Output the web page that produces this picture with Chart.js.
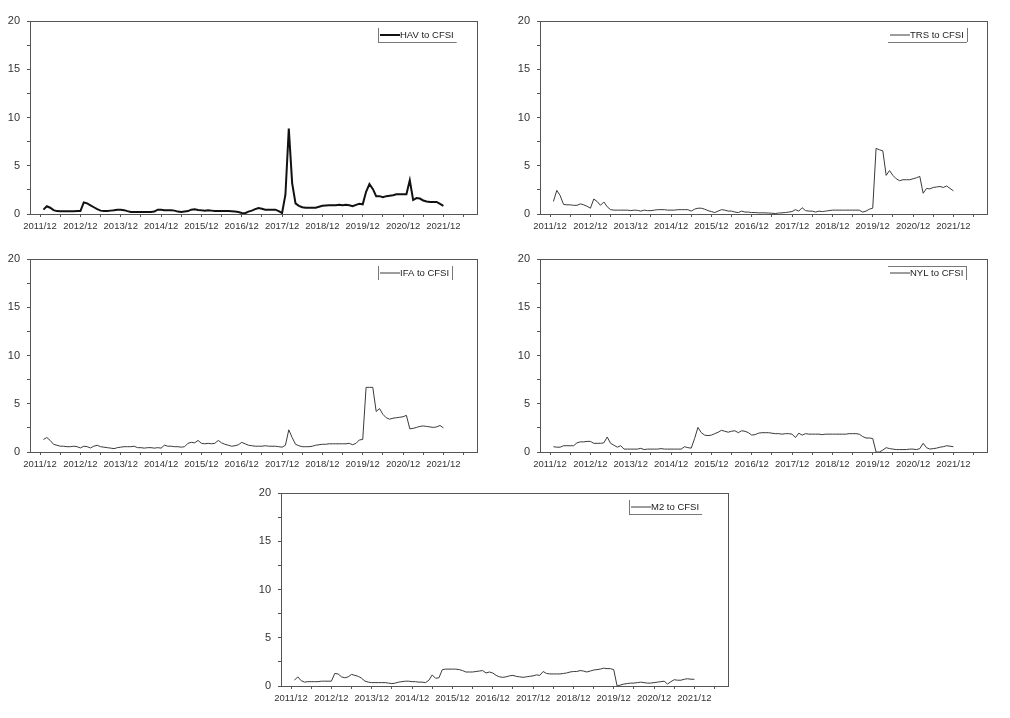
<!DOCTYPE html>
<html>
<head>
<meta charset="utf-8">
<script src="https://cdn.jsdelivr.net/npm/chart.js@4.4.1/dist/chart.umd.min.js"></script>
<style>
  body { margin: 0; background: #fff; width: 1010px; height: 718px; position: relative; overflow: hidden; }
  .panel { position: absolute; width: 500px; height: 240px; }
</style>
</head>
<body>
<div class="panel" style="left:0px;top:1px"><canvas id="c-hav" width="500" height="240"></canvas></div>
<div class="panel" style="left:510px;top:1px"><canvas id="c-trs" width="500" height="240"></canvas></div>
<div class="panel" style="left:0px;top:239px"><canvas id="c-ifa" width="500" height="240"></canvas></div>
<div class="panel" style="left:510px;top:239px"><canvas id="c-nyl" width="500" height="240"></canvas></div>
<div class="panel" style="left:251px;top:473px"><canvas id="c-m2" width="500" height="240"></canvas></div>
<script>
// months 2012/01 .. 2021/12, x = months after 2011/12
var months = [];
for (var i = 1; i <= 120; i++) months.push(i);

var yearLabels = ['2011/12', '2012/12', '2013/12', '2014/12', '2015/12', '2016/12',
                  '2017/12', '2018/12', '2019/12', '2020/12', '2021/12'];

var havValues = [
  0.45, 0.8, 0.65, 0.4, 0.3, 0.28, 0.28, 0.28, 0.28, 0.28, 0.3, 0.3,
  1.2, 1.1, 0.9, 0.7, 0.5, 0.35, 0.32, 0.32, 0.35, 0.38, 0.45, 0.45,
  0.4, 0.3, 0.22, 0.22, 0.2, 0.22, 0.2, 0.22, 0.2, 0.25, 0.45, 0.45,
  0.4, 0.38, 0.4, 0.35, 0.25, 0.2, 0.25, 0.3, 0.45, 0.5, 0.42, 0.38,
  0.35, 0.4, 0.35, 0.3, 0.3, 0.3, 0.3, 0.3, 0.28, 0.25, 0.2, 0.1,
  0.08, 0.25, 0.35, 0.5, 0.62, 0.55, 0.45, 0.45, 0.45, 0.45, 0.3, 0.1,
  2.0, 8.85, 3.2, 1.1, 0.85, 0.7, 0.65, 0.65, 0.65, 0.65, 0.75, 0.85,
  0.88, 0.9, 0.9, 0.9, 0.95, 0.9, 0.95, 0.9, 0.8, 0.95, 1.05, 1.0,
  2.3, 3.1, 2.6, 1.85, 1.85, 1.75, 1.85, 1.9, 1.95, 2.05, 2.05, 2.05,
  2.05, 3.5, 1.45, 1.65, 1.6, 1.4, 1.3, 1.25, 1.25, 1.25, 1.05, 0.85
];

var trsValues = [
  1.3, 2.45, 1.9, 1.0, 0.95, 0.95, 0.9, 0.9, 1.05, 0.95, 0.8, 0.6,
  1.55, 1.3, 0.9, 1.25, 0.75, 0.45, 0.4, 0.4, 0.4, 0.4, 0.4, 0.35,
  0.4, 0.38, 0.3, 0.4, 0.35, 0.35, 0.4, 0.45, 0.45, 0.45, 0.4, 0.4,
  0.4, 0.45, 0.45, 0.45, 0.45, 0.3, 0.5, 0.6, 0.6, 0.5, 0.35, 0.25,
  0.15, 0.3, 0.45, 0.4, 0.3, 0.3, 0.2, 0.15, 0.3, 0.2, 0.2, 0.15,
  0.15, 0.12, 0.12, 0.12, 0.1, 0.08, 0.05, 0.1, 0.12, 0.15, 0.2, 0.25,
  0.45, 0.3, 0.65, 0.35, 0.3, 0.3, 0.2, 0.3, 0.25, 0.3, 0.35, 0.4,
  0.4, 0.4, 0.4, 0.4, 0.4, 0.4, 0.4, 0.4, 0.2, 0.3, 0.5, 0.6,
  6.8, 6.65, 6.55, 4.0, 4.5, 4.0, 3.65, 3.45, 3.55, 3.55, 3.55, 3.65,
  3.75, 3.9, 2.15, 2.65, 2.6, 2.75, 2.8, 2.85, 2.75, 2.9, 2.65, 2.4
];

var ifaValues = [
  1.3, 1.5, 1.2, 0.8, 0.7, 0.6, 0.6, 0.55, 0.55, 0.6, 0.55, 0.42,
  0.6, 0.55, 0.42, 0.6, 0.7, 0.55, 0.5, 0.45, 0.4, 0.35, 0.45, 0.5,
  0.55, 0.55, 0.55, 0.6, 0.45, 0.45, 0.4, 0.45, 0.45, 0.4, 0.45, 0.4,
  0.7, 0.6, 0.6, 0.55, 0.55, 0.5, 0.55, 0.9, 1.0, 0.95, 1.2, 0.9,
  0.85, 0.9, 0.85, 0.9, 1.2, 0.95, 0.8, 0.7, 0.6, 0.65, 0.75, 1.0,
  0.85, 0.7, 0.65, 0.6, 0.6, 0.6, 0.65, 0.6, 0.6, 0.6, 0.55, 0.5,
  0.7, 2.3, 1.5, 0.8, 0.65, 0.55, 0.55, 0.55, 0.6, 0.7, 0.75, 0.8,
  0.8, 0.85, 0.85, 0.85, 0.85, 0.85, 0.85, 0.9, 0.75, 0.9, 1.25, 1.3,
  6.7, 6.7, 6.7, 4.2, 4.5, 3.9, 3.55, 3.4, 3.5, 3.55, 3.6, 3.65,
  3.8, 2.4, 2.45, 2.55, 2.65, 2.7, 2.65, 2.6, 2.55, 2.6, 2.75, 2.5
];

var nylValues = [
  0.55, 0.5, 0.5, 0.65, 0.65, 0.65, 0.65, 0.95, 1.05, 1.05, 1.1, 1.1,
  0.9, 0.9, 0.9, 0.95, 1.55, 0.9, 0.7, 0.5, 0.65, 0.3, 0.3, 0.3,
  0.3, 0.3, 0.38, 0.25, 0.3, 0.3, 0.3, 0.3, 0.35, 0.3, 0.3, 0.3,
  0.3, 0.3, 0.3, 0.55, 0.45, 0.4, 1.4, 2.55, 2.0, 1.75, 1.7, 1.75,
  1.9, 2.05, 2.25, 2.15, 2.05, 2.15, 2.2, 2.0, 2.2, 2.15, 2.0, 1.75,
  1.8, 1.95, 2.0, 2.0, 2.0, 1.95, 1.9, 1.9, 1.85, 1.9, 1.9, 1.85,
  1.5, 1.95, 1.75, 1.9, 1.85, 1.85, 1.85, 1.85, 1.8, 1.85, 1.85, 1.85,
  1.85, 1.85, 1.85, 1.85, 1.9, 1.9, 1.9, 1.85, 1.6, 1.45, 1.45, 1.4,
  0.0, 0.0, 0.2, 0.45, 0.35, 0.3, 0.25, 0.25, 0.25, 0.25, 0.3, 0.3,
  0.25, 0.35, 0.9, 0.45, 0.3, 0.35, 0.4, 0.5, 0.55, 0.65, 0.6, 0.55
];

var m2Values = [
  0.6, 0.95, 0.55, 0.4, 0.45, 0.45, 0.45, 0.45, 0.5, 0.5, 0.5, 0.5,
  1.3, 1.25, 0.95, 0.85, 0.95, 1.2, 1.1, 1.0, 0.8, 0.5, 0.4, 0.35,
  0.35, 0.35, 0.35, 0.35, 0.3, 0.25, 0.3, 0.4, 0.45, 0.5, 0.5, 0.45,
  0.45, 0.4, 0.4, 0.35, 0.6, 1.15, 0.8, 0.85, 1.7, 1.75, 1.75, 1.75,
  1.75, 1.7, 1.6, 1.45, 1.45, 1.45, 1.5, 1.55, 1.6, 1.35, 1.45, 1.35,
  1.1, 0.95, 0.9, 0.95, 1.05, 1.1, 1.0, 0.95, 0.9, 0.95, 1.0, 1.05,
  1.15, 1.1, 1.5, 1.3, 1.25, 1.25, 1.25, 1.25, 1.3, 1.35, 1.45, 1.5,
  1.5, 1.6, 1.55, 1.45, 1.55, 1.65, 1.7, 1.75, 1.85, 1.8, 1.8, 1.7,
  0.0, 0.1, 0.2, 0.25, 0.3, 0.3, 0.35, 0.4, 0.35, 0.3, 0.3, 0.35,
  0.4, 0.45, 0.5, 0.2, 0.45, 0.65, 0.6, 0.6, 0.7, 0.75, 0.7, 0.7
];

var FONT = '"Liberation Sans", Arial, sans-serif';
var AXIS = '#555';

// box round the plot area
var framePlugin = {
  id: 'frame',
  afterDraw: function (chart) {
    var a = chart.chartArea, ctx = chart.ctx;
    ctx.save();
    ctx.strokeStyle = AXIS;
    ctx.lineWidth = 1;
    ctx.strokeRect(Math.round(a.left) + 0.5, Math.round(a.top) + 0.5,
                   Math.round(a.right - a.left), Math.round(a.bottom - a.top));
    ctx.restore();
  }
};

// little legend box, only some of its edges are drawn (as in the source figure)
var boxLegend = {
  id: 'boxLegend',
  afterDraw: function (chart, args, opts) {
    var a = chart.chartArea, ctx = chart.ctx;
    var ds = chart.data.datasets[0];
    var x0 = a.left + 348, y0 = a.top + 7, h = 14;
    ctx.save();
    ctx.font = '9.5px ' + FONT;
    var tw = ctx.measureText(ds.label).width;
    var x1 = x0 + 22 + tw + 3;
    var ym = y0 + h / 2;
    ctx.strokeStyle = ds.borderColor;
    ctx.lineWidth = ds.borderWidth;
    ctx.beginPath(); ctx.moveTo(x0 + 2, ym); ctx.lineTo(x0 + 22, ym); ctx.stroke();
    ctx.fillStyle = '#222';
    ctx.textBaseline = 'middle';
    ctx.fillText(ds.label, x0 + 22, ym + 0.5);
    ctx.strokeStyle = '#777';
    ctx.lineWidth = 1;
    var e = opts.edges || '';
    ctx.beginPath();
    if (e.indexOf('t') >= 0) { ctx.moveTo(x0, y0 + 0.5); ctx.lineTo(x1, y0 + 0.5); }
    if (e.indexOf('b') >= 0) { ctx.moveTo(x0, y0 + h + 0.5); ctx.lineTo(x1, y0 + h + 0.5); }
    if (e.indexOf('l') >= 0) { ctx.moveTo(Math.round(x0) + 0.5, y0); ctx.lineTo(Math.round(x0) + 0.5, y0 + h); }
    if (e.indexOf('r') >= 0) { ctx.moveTo(Math.round(x1) + 0.5, y0); ctx.lineTo(Math.round(x1) + 0.5, y0 + h); }
    ctx.stroke();
    ctx.restore();
  }
};

function makeChart(id, label, values, color, width, edges) {
  return new Chart(document.getElementById(id), {
    type: 'line',
    data: {
      datasets: [{
        label: label,
        data: values.map(function (v, i) { return { x: months[i], y: v }; }),
        borderColor: color,
        borderWidth: width,
        pointRadius: 0,
        tension: 0,
        fill: false
      }]
    },
    options: {
      responsive: false,
      animation: false,
      devicePixelRatio: 1,
      layout: { padding: { top: 20, right: 23, left: 0, bottom: 0 } },
      plugins: {
        legend: { display: false },
        tooltip: { enabled: false },
        boxLegend: { edges: edges }
      },
      scales: {
        x: {
          type: 'linear',
          min: -3,
          max: 130,
          border: { display: false },
          grid: { drawOnChartArea: false, drawTicks: true, tickLength: 3, color: AXIS },
          ticks: {
            autoSkip: false,
            maxRotation: 0,
            padding: 4,
            color: '#333',
            font: { family: FONT, size: 9.5 },
            callback: function (v) { return v % 12 === 0 ? (yearLabels[v / 12] || '') : ''; }
          },
          // a tick every half year, a label every year
          afterBuildTicks: function (s) {
            var t = [];
            for (var v = 0; v <= s.max; v += 6) t.push({ value: v });
            s.ticks = t;
          },
          afterFit: function (s) { s.height = 27; }
        },
        y: {
          min: 0,
          max: 20,
          border: { display: false },
          grid: { drawOnChartArea: false, drawTicks: true, tickLength: 3, color: AXIS },
          ticks: {
            stepSize: 2.5,
            padding: 7,
            color: '#333',
            font: { family: FONT, size: 11 },
            callback: function (v) { return v % 5 === 0 ? v : ''; }
          },
          afterFit: function (s) { s.width = 30; }
        }
      }
    },
    plugins: [framePlugin, boxLegend]
  });
}

makeChart('c-hav', 'HAV to CFSI', havValues, '#111', 2, 'lb');
makeChart('c-trs', 'TRS to CFSI', trsValues, '#3a3a3a', 1, 'rb');
makeChart('c-ifa', 'IFA to CFSI', ifaValues, '#3a3a3a', 1, 'lr');
makeChart('c-nyl', 'NYL to CFSI', nylValues, '#3a3a3a', 1, 'tr');
makeChart('c-m2', 'M2 to CFSI', m2Values, '#3a3a3a', 1, 'lb');
</script>
</body>
</html>
